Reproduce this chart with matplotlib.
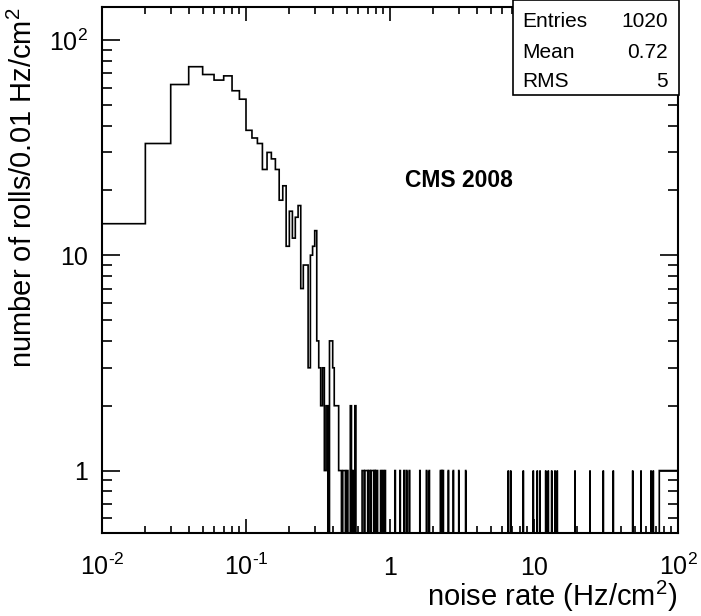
import numpy as np
import matplotlib
matplotlib.use('Agg')
import matplotlib.pyplot as plt
from matplotlib.ticker import LogLocator, NullFormatter, FixedLocator
from matplotlib.patches import Rectangle

plt.rcParams['font.family'] = ['Liberation Sans', 'DejaVu Sans']
plt.rcParams['mathtext.fontset'] = 'custom'
plt.rcParams['mathtext.rm'] = 'Liberation Sans'
plt.rcParams['mathtext.it'] = 'Liberation Sans:italic'
plt.rcParams['mathtext.bf'] = 'Liberation Sans:bold'

bin_width = 0.01
# rolls per 0.01 Hz/cm2 bin, first bin starts at 0.01
head_counts = [14, 33, 62, 75, 69, 65, 68, 58, 53, 38,
               35, 33, 25, 30, 28, 25, 18, 21, 11, 16,
               12, 15, 17, 7, 9, 9, 3, 10, 11, 13,
               4, 3, 2, 3, 1, 2, 0, 4, 4, 3,
               2, 2, 2, 1, 1, 0, 1, 1, 0, 1,
               0, 0, 2, 0, 1, 0, 2, 0, 0, 0,
               0, 0, 0]
# bins (lower edge / 0.01) further out with a single roll
single_bins = [64, 65, 67, 68, 69, 71, 72, 74, 75, 76, 78, 80, 81,
               86, 89, 92, 108, 117, 125, 130, 136, 161, 179, 187,
               224, 229, 234, 254, 275, 300, 335, 663, 689, 843, 989,
               1054, 1101, 1206, 1257, 1327, 1399, 1451, 1926, 2449,
               3029, 3554, 4847, 5536, 6494, 6737]
last_bin_start = 74.15   # last wide bin up to 100 with one roll
last_bin_count = 1

x_ticks = [0.01, 0.1, 1, 10, 100]
x_labels = [r'$10^{\text{-}2}$', r'$10^{\text{-}1}$', '1', '10', '$10^{2}$']
y_ticks = [1, 10, 100]
y_labels = ['1', '10', '$10^{2}$']

stats_names = ['Entries', 'Mean', 'RMS']
stats_values = ['1020', '0.72', '5']

n_fine = int(round(last_bin_start / bin_width))
edges = np.append(np.arange(1, n_fine + 1) * bin_width, 100.0)
counts = np.zeros(len(edges) - 1)
counts[:len(head_counts)] = head_counts
for k in single_bins:
    counts[k - 1] = 1
counts[-1] = last_bin_count

fig = plt.figure(figsize=(7.01, 6.16), dpi=100)
ax = fig.add_axes([102 / 701, 83 / 616, 576 / 701, 526 / 616])
ax.set_xscale('log')
ax.set_yscale('log')

ax.stairs(counts, edges, baseline=None, color='black', linewidth=1.2)

ax.set_xlim(0.01, 100)
ax.set_ylim(0.513, 142)

ax.xaxis.set_major_locator(FixedLocator(x_ticks))
ax.set_xticklabels(x_labels)
ax.xaxis.set_minor_locator(LogLocator(base=10, subs=np.arange(2, 10), numticks=20))
ax.xaxis.set_minor_formatter(NullFormatter())
ax.yaxis.set_major_locator(FixedLocator(y_ticks))
ax.set_yticklabels(y_labels)
ax.yaxis.set_minor_locator(LogLocator(base=10, subs=np.arange(2, 10), numticks=20))
ax.yaxis.set_minor_formatter(NullFormatter())

ax.tick_params(axis='x', which='major', direction='in', length=10, width=1.2,
               top=True, bottom=True, pad=30, labelsize=18)
ax.tick_params(axis='x', which='minor', direction='in', length=5, width=1.2,
               top=True, bottom=True)
ax.tick_params(axis='y', which='major', direction='in', length=13, width=1.2,
               left=True, right=True, pad=10, labelsize=18)
ax.tick_params(axis='y', which='minor', direction='in', length=7, width=1.2,
               left=True, right=True)
for lab in ax.get_xticklabels():
    lab.set_verticalalignment('baseline')
for sp in ax.spines.values():
    sp.set_linewidth(1.5)

ax.set_xlabel('noise rate (Hz/cm$^{2}$)', fontsize=21, loc='right')
ax.xaxis.set_label_coords(1.0, -0.087)
ax.set_ylabel('number of rolls/0.01 Hz/cm$^{2}$', fontsize=21, loc='top')
ax.yaxis.set_label_coords(-0.111, 1.0)

ax.text(0.62, 0.671, 'CMS 2008', transform=ax.transAxes, fontsize=16.5,
        fontweight='bold', ha='center', va='center')

# stats box
fig.patches.append(Rectangle((513 / 701, 521 / 616), 166 / 701, 95 / 616,
                             transform=fig.transFigure, facecolor='white',
                             edgecolor='black', linewidth=1.2, zorder=5))
row_y = [0.9648, 0.914, 0.8669]
for name, val, yy in zip(stats_names, stats_values, row_y):
    fig.text(522 / 701, yy, name, fontsize=15, ha='left', va='center', zorder=6)
    fig.text(668 / 701, yy, val, fontsize=15, ha='right', va='center', zorder=6)

fig.savefig('out.png', dpi=100)
